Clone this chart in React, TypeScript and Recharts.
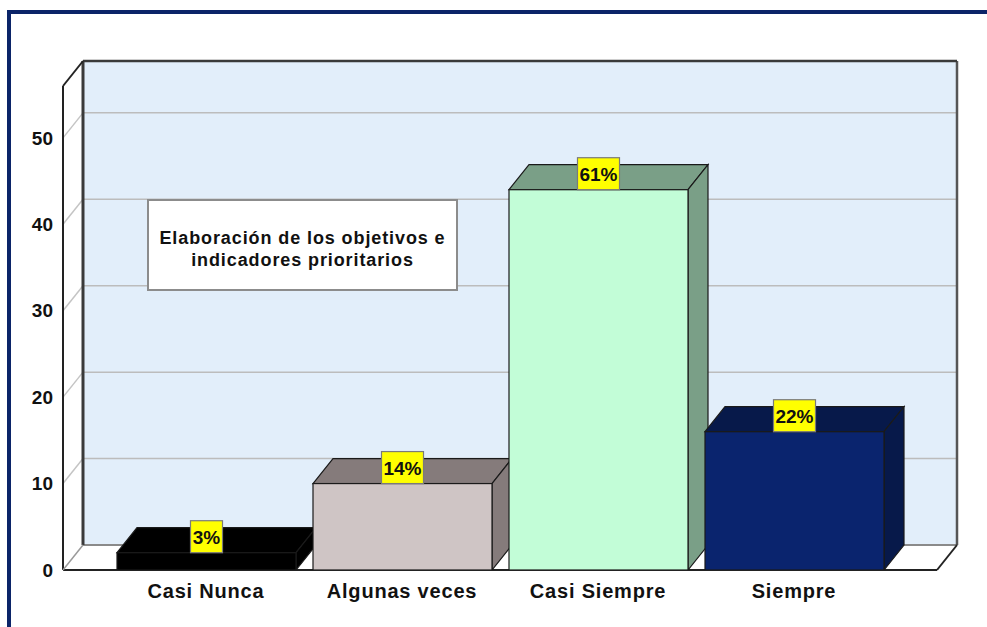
import React from "react";
import { BarChart, Bar, XAxis, YAxis, ReferenceArea } from "recharts";

const categories = ["Casi Nunca", "Algunas veces", "Casi Siempre", "Siempre"];
const counts = [2, 10, 44, 16];
const percentLabels = ["3%", "14%", "61%", "22%"];
const frontColors = ["#000000", "#cfc5c5", "#c2fdd7", "#0a246e"];
const shadeColors = ["#000000", "#857b7b", "#7a9f87", "#07194a"];
const yTicks = [0, 10, 20, 30, 40, 50];
const gridTicks = [10, 20, 30, 40, 50];
const Y_MAX = 56;
const titleLines = ["Elaboración de los objetivos e", "indicadores prioritarios"];

const data = categories.map((name, i) => ({ name, value: counts[i] }));

const DX = 20;
const DY = -25;
const PAD = 45;
const FONT = "'Liberation Sans', Arial, Helvetica, sans-serif";

const Wall = (props: any) => {
  const x = props.x - PAD;
  const w = props.width + 2 * PAD;
  const { y, height: h } = props;
  const bx = x + DX;
  const by = y + DY;
  return (
    <g>
      <rect x={bx} y={by} width={w} height={h} fill="#e2eefa" stroke="none" />
      {gridTicks.map((t) => {
        const yy = y + h * (1 - t / Y_MAX);
        return (
          <g key={t}>
            <line x1={x} y1={yy} x2={bx} y2={yy + DY} stroke="#c4c4c4" strokeWidth={1.5} />
            <line x1={bx} y1={yy + DY} x2={bx + w} y2={yy + DY} stroke="#bcbcbc" strokeWidth={1.5} />
          </g>
        );
      })}
      <polygon
        points={`${x},${y + h} ${x + w},${y + h} ${bx + w},${by + h} ${bx},${by + h}`}
        fill="#ffffff"
        stroke="none"
      />
      <line x1={bx} y1={by + h} x2={bx + w} y2={by + h} stroke="#8a8a8a" strokeWidth={2} />
      <line x1={bx + w} y1={by} x2={bx + w} y2={by + h} stroke="#555" strokeWidth={2.5} />
      <line x1={bx} y1={by} x2={bx + w} y2={by} stroke="#3a3a3a" strokeWidth={2.5} />
      <line x1={bx} y1={by} x2={bx} y2={by + h} stroke="#3a3a3a" strokeWidth={3} />
      <line x1={x} y1={y} x2={bx} y2={by} stroke="#222" strokeWidth={2} />
      <line x1={x} y1={y} x2={x} y2={y + h} stroke="#222" strokeWidth={2} />
      <line x1={x} y1={y + h} x2={x + w} y2={y + h} stroke="#222" strokeWidth={2} />
      <line x1={x + w} y1={y + h} x2={bx + w} y2={by + h} stroke="#222" strokeWidth={2} />
      <line x1={x} y1={y + h} x2={bx} y2={by + h} stroke="#9a9a9a" strokeWidth={1.5} />
      <g>
        <rect x={x + 85} y={y + 114} width={309} height={90} fill="#ffffff" stroke="#8c8c8c" strokeWidth={2} />
        {titleLines.map((ln, i) => (
          <text
            key={i}
            x={x + 85 + 154.5}
            y={y + 158 + i * 22}
            textAnchor="middle"
            fontFamily={FONT}
            fontWeight="bold"
            fontSize={18}
            letterSpacing={0.9}
            fill="#111"
          >
            {ln}
          </text>
        ))}
      </g>
    </g>
  );
};

const Bar3D = (props: any) => {
  const { x, y, width: w, height: h, index } = props;
  const front = frontColors[index];
  const shade = shadeColors[index];
  const label = percentLabels[index];
  const bw = label.length * 10 + 12;
  const bh = 32;
  const cx = x + w / 2;
  return (
    <g>
      <polygon
        points={`${x},${y} ${x + DX},${y + DY} ${x + w + DX},${y + DY} ${x + w},${y}`}
        fill={shade}
        stroke="#1a1a1a"
        strokeWidth={1.2}
      />
      <polygon
        points={`${x + w},${y} ${x + w + DX},${y + DY} ${x + w + DX},${y + h + DY} ${x + w},${y + h}`}
        fill={shade}
        stroke="#1a1a1a"
        strokeWidth={1.2}
      />
      <rect x={x} y={y} width={w} height={h} fill={front} stroke="#1a1a1a" strokeWidth={1.2} />
      <rect x={cx - bw / 2} y={y - bh} width={bw} height={bh} fill="#ffff00" stroke="#7a7a7a" strokeWidth={1.2} />
      <text
        x={cx}
        y={y - bh / 2 + 7}
        textAnchor="middle"
        fontFamily={FONT}
        fontWeight="bold"
        fontSize={19}
        fill="#111"
      >
        {label}
      </text>
    </g>
  );
};

export default function App() {
  return (
    <div style={{ position: "absolute", left: 0, top: 0, width: 987, height: 627, overflow: "hidden", background: "#fff" }}>
      <div
        style={{
          position: "absolute",
          left: 7,
          top: 10,
          width: 1200,
          height: 900,
          borderTop: "4px solid #0b2468",
          borderLeft: "4px solid #0b2468",
        }}
      />
      <div style={{ position: "absolute", left: 0, top: 0 }}>
        <BarChart
          width={987}
          height={627}
          data={data}
          margin={{ top: 86, right: 50, bottom: 0, left: 0 }}
          barSize={179}
        >
          <ReferenceArea y1={0} y2={Y_MAX} ifOverflow="visible" shape={Wall} />
          <XAxis
            dataKey="name"
            height={57}
            padding={{ left: PAD, right: PAD }}
            axisLine={false}
            tickLine={false}
            tickMargin={8}
            interval={0}
            tick={{ fontFamily: FONT, fontWeight: "bold", fontSize: 20, fill: "#111", letterSpacing: 0.8 }}
          />
          <YAxis
            width={63}
            domain={[0, Y_MAX]}
            ticks={yTicks}
            axisLine={false}
            tickLine={false}
            tickMargin={4}
            allowDataOverflow
            tick={{ fontFamily: FONT, fontWeight: "bold", fontSize: 19, fill: "#111" }}
          />
          <Bar dataKey="value" shape={Bar3D} isAnimationActive={false} />
        </BarChart>
      </div>
    </div>
  );
}
